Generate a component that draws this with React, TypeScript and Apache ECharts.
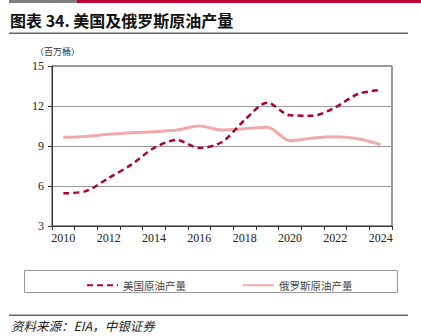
import React, { useEffect, useRef } from "react";
import * as echarts from "echarts";

const years = ["2010","2011","2012","2013","2014","2015","2016","2017","2018","2019","2020","2021","2022","2023","2024"];
const usOil = [5.45, 5.62, 6.6, 7.6, 8.85, 9.45, 8.85, 9.3, 10.95, 12.25, 11.3, 11.27, 11.9, 12.9, 13.2];
const ruOil = [9.65, 9.72, 9.88, 10.0, 10.07, 10.2, 10.5, 10.2, 10.3, 10.4, 9.4, 9.6, 9.7, 9.55, 9.1];
const seriesNames = ["美国原油产量", "俄罗斯原油产量"];
const titleText = "图表 34. 美国及俄罗斯原油产量";
const unitText = "（百万桶）";
const sourceText = "资料来源：EIA，中银证券";

const SERIF = "'Liberation Serif', 'Noto Sans CJK SC', serif";
const CJK = "'Noto Sans CJK SC', 'Liberation Serif', serif";

export default function App() {
  const ref = useRef<HTMLDivElement>(null);
  useEffect(() => {
    if (!ref.current) return;
    const chart = echarts.init(ref.current, undefined, { renderer: "svg" });
    chart.setOption({
      animation: false,
      backgroundColor: "#ffffff",
      grid: { left: 52, right: 29, top: 66, bottom: 110, show: true, borderColor: "#333", borderWidth: 1 },
      xAxis: {
        type: "category",
        data: years,
        boundaryGap: true,
        axisLine: { lineStyle: { color: "#333", width: 1 } },
        axisTick: { show: true, interval: 0, length: 4, lineStyle: { color: "#333" } },
        axisLabel: { interval: 1, color: "#222", fontSize: 12, fontFamily: SERIF, margin: 6 },
      },
      yAxis: {
        type: "value",
        min: 3,
        max: 15,
        interval: 3,
        axisLine: { show: true, lineStyle: { color: "#333", width: 1 } },
        axisTick: { show: true, length: 4, lineStyle: { color: "#333" } },
        axisLabel: { color: "#222", fontSize: 12, fontFamily: SERIF, margin: 8 },
        splitLine: { show: true, lineStyle: { color: "#999", width: 1 } },
      },
      legend: {
        left: 81,
        top: 275,
        itemWidth: 31,
        itemHeight: 10,
        itemGap: 56,
        itemStyle: { opacity: 0 },
        textStyle: { fontSize: 10.5, fontFamily: CJK, color: "#444" },
        data: seriesNames,
      },
      series: [
        {
          name: seriesNames[0],
          type: "line",
          data: usOil,
          smooth: 0.3,
          symbol: "none",
          lineStyle: { color: "#b0002c", width: 2.5, type: [6, 4] },
          itemStyle: { color: "#b0002c" },
          z: 3,
        },
        {
          name: seriesNames[1],
          type: "line",
          data: ruOil,
          smooth: 0.3,
          symbol: "none",
          lineStyle: { color: "#f0aaaa", width: 3 },
          itemStyle: { color: "#f0aaaa" },
          z: 2,
        },
      ],
      graphic: [
        { type: "rect", shape: { x: 9, y: 0, width: 68, height: 3 }, style: { fill: "#7f7f7f" } },
        { type: "rect", shape: { x: 77, y: 0, width: 344, height: 3 }, style: { fill: "#c00032" } },
        { type: "text", x: 10, y: 12, style: { text: titleText, fontSize: 16, fontWeight: "bold", fontFamily: CJK, fill: "#111" } },
        { type: "rect", shape: { x: 9, y: 32.5, width: 399, height: 1.5 }, style: { fill: "#666" } },
        { type: "text", x: 35, y: 47, style: { text: unitText, fontSize: 9, fontFamily: CJK, fill: "#333" } },
        { type: "rect", shape: { x: 24.5, y: 270.5, width: 373, height: 22 }, style: { fill: "none", stroke: "#999", lineWidth: 1 } },
        { type: "rect", shape: { x: 9, y: 314.5, width: 399, height: 1.5 }, style: { fill: "#666" } },
        { type: "text", x: 11, y: 319, style: { text: sourceText, fontSize: 12.5, fontStyle: "italic", fontFamily: CJK, fill: "#222" } },
      ],
    });
    return () => chart.dispose();
  }, []);
  return <div ref={ref} style={{ width: 421, height: 336, position: "absolute", left: 0, top: 0 }} />;
}
